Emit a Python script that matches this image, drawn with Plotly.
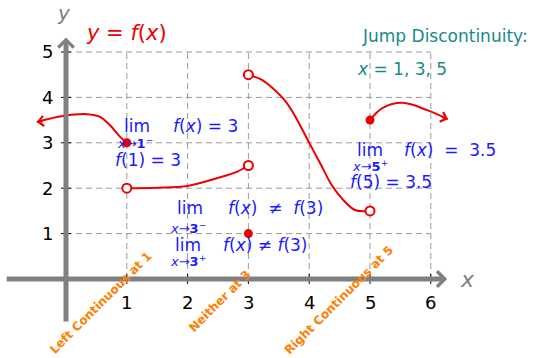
import plotly.graph_objects as go

# ---------------- data ----------------
x_ticks = [1, 2, 3, 4, 5, 6]
y_ticks = [1, 2, 3, 4, 5]
x_tick_labels = ["1", "2", "3", "4", "5", "6"]
y_tick_labels = ["1", "2", "3", "4", "5"]

# piece 1 (arrow to the left, ends at filled dot (1,3))
p1_x = [-0.48, -0.05, 0.35, 0.56, 0.72, 0.89, 1.0]
p1_y = [3.46, 3.59, 3.63, 3.57, 3.39, 3.13, 3.0]
# piece 2 (open (1,2) to open (3,2.5))
p2_x = [1.0, 1.5, 2.0, 2.48, 2.81, 3.0]
p2_y = [2.0, 2.01, 2.05, 2.22, 2.36, 2.5]
# piece 3 (open (3,4.5) to open (5,1.5))
p3_x = [3.0, 3.2, 3.4, 3.63, 3.82, 4.0, 4.18, 4.37, 4.56, 4.75, 4.9, 5.0]
p3_y = [4.5, 4.4, 4.2, 3.88, 3.46, 3.0, 2.55, 2.07, 1.74, 1.52, 1.49, 1.5]
# piece 4 (filled (5,3.5) to arrow at right)
p4_x = [5.0, 5.21, 5.54, 5.94, 6.28]
p4_y = [3.5, 3.77, 3.88, 3.72, 3.52]

open_x = [1, 3, 3, 5]
open_y = [2, 2.5, 4.5, 1.5]
filled_x = [1, 3, 5]
filled_y = [3, 1, 3.5]

# ---------------- style ----------------
RED = "#ee0000"
BLUE = "#1a1aff"
TEAL = "#178a8a"
ORANGE = "#ff8000"
GRAY = "#808080"
FONT = "DejaVu Sans"

fig = go.Figure()

for px, py in [(p1_x, p1_y), (p2_x, p2_y), (p3_x, p3_y), (p4_x, p4_y)]:
    fig.add_trace(go.Scatter(x=px, y=py, mode="lines",
                             line=dict(color=RED, width=2, shape="spline", smoothing=1.0),
                             hoverinfo="skip", showlegend=False))

fig.add_trace(go.Scatter(x=open_x, y=open_y, mode="markers",
                         marker=dict(size=9, color="white", line=dict(color=RED, width=2)),
                         showlegend=False))
fig.add_trace(go.Scatter(x=filled_x, y=filled_y, mode="markers",
                         marker=dict(size=9, color=RED, line=dict(color=RED, width=0)),
                         showlegend=False))

shapes = []
# dashed grid
for xv in x_ticks:
    shapes.append(dict(type="line", x0=xv, x1=xv, y0=0, y1=max(y_ticks),
                       line=dict(color="#9a9a9a", width=1, dash="6px,4px"), layer="below"))
for yv in y_ticks:
    shapes.append(dict(type="line", x0=0, x1=max(x_ticks), y0=yv, y1=yv,
                       line=dict(color="#9a9a9a", width=1, dash="6px,4px"), layer="below"))
# tick marks
for xv in x_ticks:
    shapes.append(dict(type="line", x0=xv, x1=xv, ysizemode="pixel", yanchor=0, y0=-5, y1=5,
                       line=dict(color="black", width=1)))
for yv in y_ticks:
    shapes.append(dict(type="line", y0=yv, y1=yv, xsizemode="pixel", xanchor=0, x0=-5, x1=5,
                       line=dict(color="black", width=1)))

ann = []
# axes with arrowheads
ann.append(dict(x=6.27, y=0, ax=-1.0, ay=0, axref="x", ayref="y", xref="x", yref="y",
                text="", showarrow=True, arrowhead=4, arrowsize=0.6, arrowwidth=5, arrowcolor=GRAY))
ann.append(dict(x=0, y=5.32, ax=0, ay=-0.97, axref="x", ayref="y", xref="x", yref="y",
                text="", showarrow=True, arrowhead=4, arrowsize=0.6, arrowwidth=5, arrowcolor=GRAY))
# curve arrowheads
ann.append(dict(x=p1_x[0], y=p1_y[0], ax=p1_x[0] + 0.12, ay=p1_y[0] + 0.02, axref="x", ayref="y",
                text="", showarrow=True, arrowhead=4, arrowsize=1, arrowwidth=2, arrowcolor=RED))
ann.append(dict(x=p4_x[-1], y=p4_y[-1], ax=p4_x[-1] - 0.12, ay=p4_y[-1] + 0.06, axref="x", ayref="y",
                text="", showarrow=True, arrowhead=4, arrowsize=1, arrowwidth=2, arrowcolor=RED))

# tick labels
for xv, lab in zip(x_ticks, x_tick_labels):
    ann.append(dict(x=xv, y=0, text=lab, showarrow=False, yshift=-23,
                    font=dict(family=FONT, size=18, color="black")))
for yv, lab in zip(y_ticks, y_tick_labels):
    ann.append(dict(x=0, y=yv, text=lab, showarrow=False, xshift=-19,
                    font=dict(family=FONT, size=18, color="black")))

# axis labels
ann.append(dict(x=-0.03, y=5.86, text="<i>y</i>", showarrow=False,
                font=dict(family=FONT, size=20, color=GRAY)))
ann.append(dict(x=6.61, y=-0.02, text="<i>x</i>", showarrow=False,
                font=dict(family=FONT, size=22, color=GRAY)))

ann.append(dict(x=1.0, y=5.42, text="<i>y</i> = <i>f</i>(<i>x</i>)", showarrow=False,
                font=dict(family=FONT, size=21, color=RED)))

ann.append(dict(x=6.23, y=5.35, text="Jump Discontinuity:", showarrow=False,
                font=dict(family=FONT, size=17, color=TEAL)))
ann.append(dict(x=5.53, y=4.63, text="<i>x</i> = 1, 3, 5", showarrow=False,
                font=dict(family=FONT, size=17, color=TEAL)))

def blue(x, y, text, size=17):
    ann.append(dict(x=x, y=y, text=text, showarrow=False,
                    font=dict(family=FONT, size=size, color=BLUE)))

# at x = 1
blue(1.17, 3.37, "lim")
blue(2.29, 3.37, "<i>f</i>(<i>x</i>) = 3")
blue(1.13, 2.99, "<i>x</i>→<b>1</b><sup>−</sup>", 13)
blue(1.35, 2.62, "<i>f</i>(1) = 3")
# at x = 5
blue(5.0, 2.84, "lim")
blue(6.32, 2.84, "<i>f</i>(<i>x</i>)  =  3.5")
blue(5.0, 2.49, "<i>x</i>→<b>5</b><sup>+</sup>", 13)
blue(5.35, 2.13, "<i>f</i>(5) = 3.5")
# at x = 3
blue(2.04, 1.56, "lim")
blue(3.44, 1.56, "<i>f</i>(<i>x</i>)  ≠  <i>f</i>(3)")
blue(2.0, 1.12, "<i>x</i>→<b>3</b><sup>−</sup>", 13)
blue(2.0, 0.75, "lim")
blue(3.27, 0.75, "<i>f</i>(<i>x</i>) ≠ <i>f</i>(3)")
blue(2.0, 0.39, "<i>x</i>→<b>3</b><sup>+</sup>", 13)

# orange rotated notes
for x, y, t in [(0.57, -0.53, "Left Continuous at 1"),
                (2.53, -0.48, "Neither at 3"),
                (4.49, -0.46, "Right Continuous at 5")]:
    ann.append(dict(x=x, y=y, text="<b>" + t + "</b>", showarrow=False, textangle=-45,
                    font=dict(family=FONT, size=12, color=ORANGE)))

fig.update_layout(
    width=533, height=358,
    margin=dict(l=0, r=0, t=0, b=0),
    paper_bgcolor="white", plot_bgcolor="white",
    xaxis=dict(range=[-1.0855, 7.681], visible=False, fixedrange=True),
    yaxis=dict(range=[-1.740, 6.145], visible=False, fixedrange=True),
    shapes=shapes, annotations=ann, showlegend=False,
)

fig.write_html("out.html", config={"displayModeBar": False},
               post_script="document.body.style.margin='0';")
